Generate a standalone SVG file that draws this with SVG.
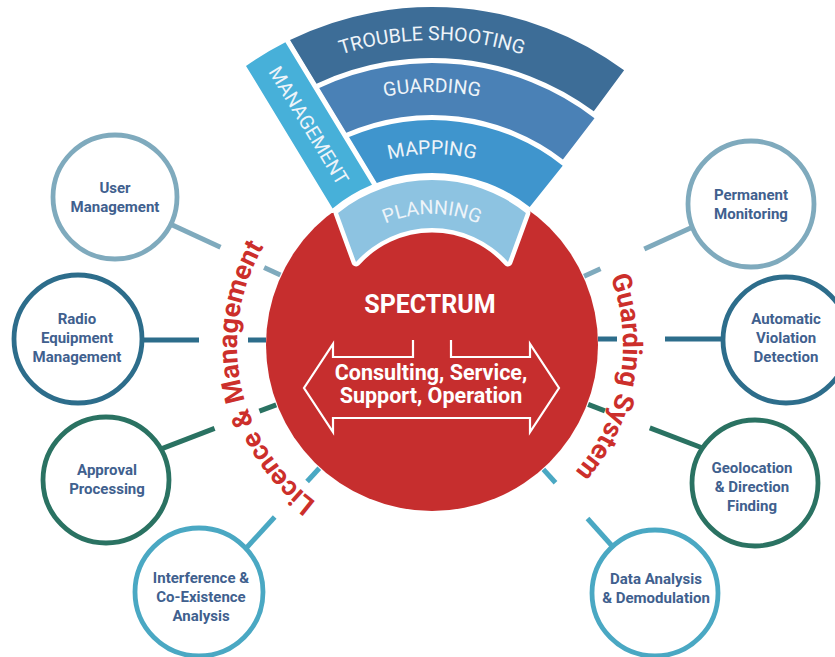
<svg xmlns="http://www.w3.org/2000/svg" width="835" height="657" viewBox="0 0 835 657">
<defs>
<style>
.bt{font-family:Roboto,"Liberation Sans",sans-serif;font-size:19.5px;fill:#eef4f9;}
.node circle{fill:#fff;stroke-width:4.8;}
.node text{font-family:Roboto,"Liberation Sans",sans-serif;font-weight:bold;font-size:15px;fill:#40608e;text-anchor:middle;}
.ring{font-family:Roboto,"Liberation Sans",sans-serif;font-weight:bold;font-size:27px;fill:#cc2f2b;}
.ctr{font-family:Roboto,"Liberation Sans",sans-serif;font-weight:bold;fill:#fff;text-anchor:middle;}
.halo{stroke:#fff;stroke-width:9;stroke-linejoin:round;paint-order:stroke;}
.k1{stroke:#7faabd}.k2{stroke:#2d6d8b}.k3{stroke:#2a7262}.k4{stroke:#4aa8c3}
#connectors line{stroke-width:5;}
</style>
<path id="arcL" d="M432 540 A195 195 0 0 1 432 150"/>
<path id="arcR" d="M432 154 A191 191 0 0 1 432 536"/>
<path id="arcT" d="M180.9 185 A290 290 0 0 1 683.1 185"/>
<path id="arcG" d="M225.9 211 A238 238 0 0 1 638.1 211"/>
<path id="arcM" d="M279.6 242 A176 176 0 0 1 584.4 242"/>
<path id="arcP" d="M331.5 272 A116 116 0 0 1 532.5 272"/>
</defs>
<rect width="835" height="657" fill="#fff"/>

<g id="spectrum">
<circle cx="432" cy="345" r="166" fill="#c62e2e"/>
<text class="ctr" x="430" y="313" font-size="25">SPECTRUM</text>
<polyline points="413,340 413,357 333,357 333,344 304,388 333,432 333,418 530,418 530,432 559,388 530,344 530,357 451,357 451,340" fill="none" stroke="#fff" stroke-width="2.2"/>
<text class="ctr" x="431" y="380" font-size="21.5">Consulting, Service,</text>
<text class="ctr" x="431" y="403" font-size="21.5">Support, Operation</text>
</g>

<g id="fan">
<g id="trouble-shooting">
<path d="M290 40 A323 323 0 0 1 624.1 70.3 L593.8 111.3 A272 272 0 0 0 316.5 83.7 Z" fill="#3d6d97"/>
<text class="bt"><textPath href="#arcT" startOffset="50%" text-anchor="middle">TROUBLE SHOOTING</textPath></text>
</g>
<g id="guarding">
<path d="M319.2 88 A267 267 0 0 1 594.5 118.2 L562.9 159.4 A215 215 0 0 0 346.3 132.8 Z" fill="#4a81b6"/>
<text class="bt"><textPath href="#arcG" startOffset="50%" text-anchor="middle">GUARDING</textPath></text>
</g>
<g id="mapping">
<path d="M349 137.1 A210 210 0 0 1 562.7 165.7 L529.7 207.1 A157 157 0 0 0 376.8 183 Z" fill="#3f95cd"/>
<text class="bt"><textPath href="#arcM" startOffset="50%" text-anchor="middle">MAPPING</textPath></text>
</g>
<g id="planning">
<path class="halo" d="M338.1 213 A150 150 0 0 1 525.9 213 L508 262 A102 102 0 0 0 356 262 Z" fill="#8dc3e1"/>
<text class="bt"><textPath href="#arcP" startOffset="50%" text-anchor="middle">PLANNING</textPath></text>
</g>
<g id="management">
<path class="halo" d="M246 65.9 A323 323 0 0 1 285.4 42.2 L372 184.8 A157 157 0 0 0 332.6 208.4 Z" fill="#47b0d9"/>
<text class="bt" transform="translate(309 125.3) rotate(58.7)" text-anchor="middle" dy="0.36em">MANAGEMENT</text>
</g>
</g>

<g id="connectors">
<line class="k1" x1="280.4" y1="274.9" x2="264.1" y2="267.4"/>
<line class="k1" x1="220.5" y1="247.2" x2="170.7" y2="224.2"/>
<line class="k2" x1="266" y1="340" x2="248" y2="340"/>
<line class="k2" x1="199" y1="340" x2="141" y2="340"/>
<line class="k3" x1="276.2" y1="404.8" x2="259.4" y2="411.2"/>
<line class="k3" x1="214.6" y1="428.4" x2="160" y2="449.4"/>
<line class="k4" x1="319.3" y1="468.2" x2="307.1" y2="481.5"/>
<line class="k4" x1="274.7" y1="517" x2="246.1" y2="548.2"/>
<line class="k1" x1="584.1" y1="276.2" x2="600.5" y2="268.8"/>
<line class="k1" x1="644.3" y1="249" x2="692.2" y2="227.3"/>
<line class="k2" x1="598" y1="339" x2="617" y2="339"/>
<line class="k2" x1="665" y1="339" x2="724" y2="339"/>
<line class="k3" x1="588.1" y1="404.4" x2="604.9" y2="410.8"/>
<line class="k3" x1="649.8" y1="427.9" x2="702.5" y2="448"/>
<line class="k4" x1="543.4" y1="469.4" x2="555.5" y2="482.8"/>
<line class="k4" x1="587.5" y1="518.5" x2="612.6" y2="546.5"/>
</g>

<g id="labels">
<text class="ring"><textPath href="#arcL" startOffset="266.8" text-anchor="middle">Licence &amp; Management</textPath></text>
<text class="ring"><textPath href="#arcR" startOffset="334.3" text-anchor="middle">Guarding System</textPath></text>
</g>

<g id="node-user-management" class="node">
<circle class="k1" cx="115" cy="197" r="62"/>
<text x="115" y="193.3">User</text><text x="115" y="212.3">Management</text>
</g>
<g id="node-radio-equipment" class="node">
<circle class="k2" cx="78" cy="339" r="64"/>
<text x="77" y="324.3">Radio</text><text x="77" y="343.3">Equipment</text><text x="77" y="362.3">Management</text>
</g>
<g id="node-approval" class="node">
<circle class="k3" cx="106" cy="480" r="63"/>
<text x="107" y="475.3">Approval</text><text x="107" y="494.3">Processing</text>
</g>
<g id="node-interference" class="node">
<circle class="k4" cx="199" cy="592" r="64"/>
<text x="201" y="583.3">Interference &amp;</text><text x="201" y="602.3">Co-Existence</text><text x="201" y="621.3">Analysis</text>
</g>
<g id="node-permanent-monitoring" class="node">
<circle class="k1" cx="751" cy="204" r="63"/>
<text x="751" y="199.8">Permanent</text><text x="751" y="218.8">Monitoring</text>
</g>
<g id="node-violation-detection" class="node">
<circle class="k2" cx="786" cy="340" r="63"/>
<text x="786" y="324.3">Automatic</text><text x="786" y="343.3">Violation</text><text x="786" y="362.3">Detection</text>
</g>
<g id="node-geolocation" class="node">
<circle class="k3" cx="755" cy="483" r="63"/>
<text x="752" y="473.3">Geolocation</text><text x="752" y="492.3">&amp; Direction</text><text x="752" y="510.8">Finding</text>
</g>
<g id="node-data-analysis" class="node">
<circle class="k4" cx="655" cy="593" r="63"/>
<text x="656" y="584.3">Data Analysis</text><text x="656" y="603.3">&amp; Demodulation</text>
</g>
</svg>
